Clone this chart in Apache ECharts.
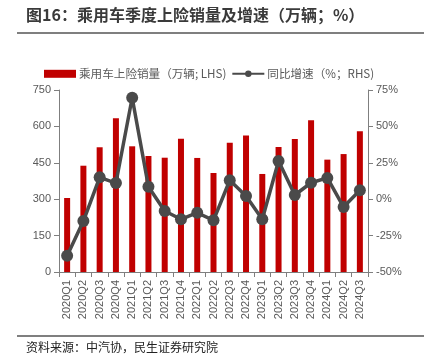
<!DOCTYPE html>
<html><head><meta charset="utf-8">
<script src="https://cdn.jsdelivr.net/npm/echarts@6/dist/echarts.min.js"></script>
<style>html,body{margin:0;padding:0;background:#fff;}#c{width:429px;height:356px;}</style>
</head><body><div id="c"></div>
<script>
const categories = ['2020Q1','2020Q2','2020Q3','2020Q4','2021Q1','2021Q2','2021Q3','2021Q4','2022Q1','2022Q2','2022Q3','2022Q4','2023Q1','2023Q2','2023Q3','2023Q4','2024Q1','2024Q2','2024Q3'];
const salesValues = [305,438,514,634,518,478,471,549,470,408,533,562,404,515,548,625,463,486,580];
const growthValues = [-38.8,-15,15,11.1,69.7,8.6,-8.1,-13.8,-9.3,-14.5,13,2.2,-13.8,26.2,2.9,11.3,14.6,-5.4,6.1];
const leftTicks = {min:0,max:750,interval:150};
const rightTicks = {min:-50,max:75,interval:25};
const titleText = '图16：乘用车季度上险销量及增速（万辆；%）';
const sourceText = '资料来源：中汽协，民生证券研究院';
const seriesNames = ['乘用车上险销量（万辆; LHS)','同比增速（%；RHS)'];

const chart = echarts.init(document.getElementById('c'));
const font = '"Liberation Sans","Noto Sans CJK SC",sans-serif';
const axisGray = '#7f7f7f';
chart.setOption({
  animation:false,
  textStyle:{fontFamily:font},
  graphic:[
    {type:'text',left:26,top:7,style:{text:titleText,font:'bold 16px "Noto Sans CJK SC",sans-serif',fill:'#3a3a3a'}},
    {type:'line',shape:{x1:17,y1:33,x2:424,y2:33},style:{stroke:'#555',lineWidth:1.5}},
    {type:'line',shape:{x1:17,y1:336,x2:424,y2:336},style:{stroke:'#555',lineWidth:1.5}},
    {type:'text',left:26,top:341,style:{text:sourceText,font:'12px "Noto Sans CJK SC",sans-serif',fill:'#222'}}
  ],
  legend:{
    top:63,left:39,itemGap:5,itemWidth:32,itemHeight:8,
    textStyle:{fontSize:11.6,color:'#595959',fontFamily:'"Noto Sans CJK SC",sans-serif',padding:[0,0,0,-2]},
    data:[{name:seriesNames[0],icon:'rect'},{name:seriesNames[1]}]
  },
  grid:{left:59,right:61,top:90,bottom:84,containLabel:false},
  xAxis:{
    type:'category',data:categories,
    axisLine:{lineStyle:{color:axisGray}},
    axisTick:{show:true,lineStyle:{color:axisGray}},
    axisLabel:{rotate:90,color:'#595959',fontSize:11,interval:0,margin:8}
  },
  yAxis:[
    {type:'value',min:leftTicks.min,max:leftTicks.max,interval:leftTicks.interval,
     splitLine:{show:false},
     axisLine:{show:true,lineStyle:{color:axisGray}},
     axisTick:{show:true,lineStyle:{color:axisGray}},
     axisLabel:{color:'#595959',fontSize:11,margin:8}},
    {type:'value',min:rightTicks.min,max:rightTicks.max,interval:rightTicks.interval,
     splitLine:{show:false},
     axisLine:{show:true,lineStyle:{color:axisGray}},
     axisTick:{show:true,lineStyle:{color:axisGray}},
     axisLabel:{color:'#595959',fontSize:11,margin:8,formatter:'{value}%'}}
  ],
  series:[
    {name:seriesNames[0],type:'bar',data:salesValues,barWidth:6,itemStyle:{color:'#C00000'}},
    {name:seriesNames[1],type:'line',yAxisIndex:1,data:growthValues,
     symbol:'circle',symbolSize:12,
     lineStyle:{color:'#4a4a4a',width:3.5},
     itemStyle:{color:'#4a4a4a'}}
  ]
});
</script></body></html>
